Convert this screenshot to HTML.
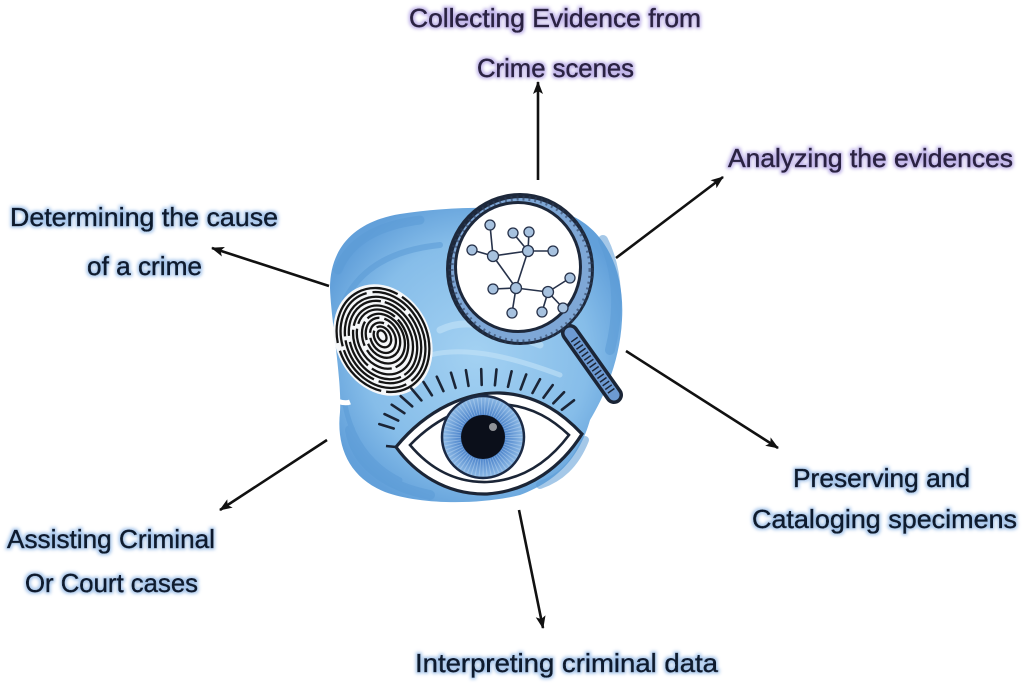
<!DOCTYPE html>
<html>
<head>
<meta charset="utf-8">
<style>
html,body{margin:0;padding:0;background:#fff;}
body{width:1024px;height:687px;overflow:hidden;}
svg{display:block;}
.t{font-family:"Liberation Sans",Arial,sans-serif;font-size:26px;}
.p{fill:#2b2143;stroke:#2b2143;stroke-width:0.55;}
.n{fill:#0f1a2e;stroke:#0f1a2e;stroke-width:0.55;}
</style>
</head>
<body>
<svg width="1024" height="687" viewBox="0 0 1024 687" xmlns="http://www.w3.org/2000/svg">
<defs>
  <filter id="gp" x="-10%" y="-40%" width="120%" height="180%">
    <feMorphology in="SourceAlpha" operator="dilate" radius="1.4" result="d"/>
    <feGaussianBlur in="d" stdDeviation="1.5" result="b"/>
    <feFlood flood-color="#c2b6ea"/>
    <feComposite in2="b" operator="in" result="g"/>
    <feMerge><feMergeNode in="g"/><feMergeNode in="SourceGraphic"/></feMerge>
  </filter>
  <filter id="gb" x="-10%" y="-40%" width="120%" height="180%">
    <feMorphology in="SourceAlpha" operator="dilate" radius="1.4" result="d"/>
    <feGaussianBlur in="d" stdDeviation="1.5" result="b"/>
    <feFlood flood-color="#aac8ec"/>
    <feComposite in2="b" operator="in" result="g"/>
    <feMerge><feMergeNode in="g"/><feMergeNode in="SourceGraphic"/></feMerge>
  </filter>
  <marker id="ah" markerWidth="13" markerHeight="10" refX="12" refY="5" orient="auto" markerUnits="userSpaceOnUse">
    <path d="M0,0 L13,5 L0,10 L3,5 Z" fill="#111"/>
  </marker>
  <radialGradient id="iris" cx="50%" cy="50%" r="50%">
    <stop offset="0" stop-color="#2a5694"/>
    <stop offset="0.55" stop-color="#4f86cc"/>
    <stop offset="1" stop-color="#8fbbe6"/>
  </radialGradient>
  <radialGradient id="blob" cx="50%" cy="50%" r="55%">
    <stop offset="0" stop-color="#a3d1f2"/>
    <stop offset="0.7" stop-color="#86bde9"/>
    <stop offset="1" stop-color="#62a0da"/>
  </radialGradient>
</defs>

<!-- Blue blob -->
<path d="M330,288 C330,250 352,222 400,214 C450,206 520,205 570,215 C605,230 625,270 622,320 C620,360 605,395 590,420 C580,455 560,480 520,495 C480,505 420,505 385,492 C350,478 336,448 340,412 C342,380 331,320 330,288 Z" fill="url(#blob)"/>
<g fill="none" stroke="#5b9bd6" stroke-linecap="round" opacity="0.55">
  <path d="M338,270 C350,240 380,225 420,220" stroke-width="9"/>
  <path d="M345,300 C360,270 390,250 440,245" stroke-width="6"/>
  <path d="M603,240 C618,270 620,310 610,350" stroke-width="10"/>
  <path d="M350,430 C355,460 380,485 430,495" stroke-width="10"/>
  <path d="M345,405 C352,440 370,465 400,480" stroke-width="5"/>
  <path d="M540,485 C560,478 575,465 585,440" stroke-width="8"/>
</g>
<g fill="none" stroke="#c3e3f8" stroke-linecap="round" opacity="0.6">
  <path d="M440,330 C470,315 500,330 540,345" stroke-width="7"/>
  <path d="M430,355 C470,345 520,360 560,375" stroke-width="5"/>
</g>
<path d="M330,398 C338,402 345,404 350,402" stroke="#fff" stroke-width="5" fill="none"/>

<!-- Fingerprint -->
<g transform="rotate(-28 383 340)">
  <ellipse cx="383" cy="340" rx="47" ry="58" fill="#f5f7f9"/>
  <g fill="none" stroke="#141414" stroke-width="2.3">
    <ellipse cx="384" cy="336" rx="4" ry="6"/>
    <ellipse cx="384" cy="337" rx="8" ry="11" stroke-dasharray="40 4"/>
    <ellipse cx="384" cy="338" rx="12" ry="16" stroke-dasharray="50 5 20 4"/>
    <ellipse cx="384" cy="338" rx="16" ry="21" stroke-dasharray="60 4 30 5"/>
    <ellipse cx="384" cy="339" rx="20" ry="26" stroke-dasharray="70 5 25 4"/>
    <ellipse cx="383" cy="339" rx="24" ry="31" stroke-dasharray="45 4 60 5"/>
    <ellipse cx="383" cy="340" rx="28" ry="36" stroke-dasharray="80 5 40 4"/>
    <ellipse cx="383" cy="340" rx="32" ry="41" stroke-dasharray="55 4 70 6"/>
    <ellipse cx="383" cy="340" rx="36" ry="45" stroke-dasharray="90 5 50 4"/>
    <ellipse cx="383" cy="340" rx="40" ry="50" stroke-dasharray="65 6 80 4"/>
    <ellipse cx="383" cy="340" rx="44" ry="54" stroke-dasharray="100 5 60 8"/>
  </g>
</g>

<!-- Magnifier handle -->
<line x1="570" y1="333" x2="614" y2="395" stroke="#1b2536" stroke-width="18" stroke-linecap="round"/>
<line x1="570" y1="333" x2="614" y2="395" stroke="#6d9ad2" stroke-width="11" stroke-linecap="round"/>
<line x1="574" y1="339" x2="612" y2="392" stroke="#1b2536" stroke-width="8" stroke-dasharray="1.5 3"/>
<!-- Lens -->
<ellipse cx="520" cy="269" rx="74" ry="76" fill="#1d283b"/>
<ellipse cx="521" cy="270" rx="70" ry="72" fill="#7ea7d6"/>
<ellipse cx="521" cy="270" rx="70" ry="72" fill="none" stroke="#2d3c58" stroke-width="5" stroke-dasharray="2 4" opacity="0.6"/>
<ellipse cx="518" cy="267" rx="64" ry="66" fill="#1d283b"/>
<ellipse cx="518" cy="267" rx="61" ry="63" fill="#ffffff"/>

<!-- Network -->
<g stroke="#27324a" stroke-width="1.6">
  <line x1="490" y1="225" x2="493" y2="256"/>
  <line x1="472" y1="250" x2="493" y2="256"/>
  <line x1="493" y1="256" x2="528" y2="251"/>
  <line x1="513" y1="233" x2="528" y2="251"/>
  <line x1="529" y1="232" x2="528" y2="251"/>
  <line x1="528" y1="251" x2="553" y2="251"/>
  <line x1="493" y1="256" x2="516" y2="288"/>
  <line x1="528" y1="251" x2="516" y2="288"/>
  <line x1="493" y1="289" x2="516" y2="288"/>
  <line x1="516" y1="288" x2="548" y2="292"/>
  <line x1="516" y1="288" x2="512" y2="313"/>
  <line x1="548" y1="292" x2="570" y2="278"/>
  <line x1="548" y1="292" x2="542" y2="312"/>
  <line x1="548" y1="292" x2="563" y2="308"/>
</g>
<g fill="#a7c2df" stroke="#27324a" stroke-width="1.3">
  <circle cx="490" cy="225" r="5"/>
  <circle cx="513" cy="233" r="5"/>
  <circle cx="529" cy="232" r="5"/>
  <circle cx="472" cy="250" r="5"/>
  <circle cx="493" cy="256" r="5.5"/>
  <circle cx="528" cy="251" r="5.5"/>
  <circle cx="553" cy="251" r="5"/>
  <circle cx="570" cy="278" r="5"/>
  <circle cx="493" cy="289" r="5"/>
  <circle cx="516" cy="288" r="5.5"/>
  <circle cx="548" cy="292" r="5.5"/>
  <circle cx="512" cy="313" r="5"/>
  <circle cx="542" cy="312" r="5"/>
  <circle cx="563" cy="308" r="5"/>
</g>

<!-- Eyelashes -->
<g stroke="#1b2536" stroke-width="2.6" stroke-linecap="round">
  <line x1="393.7" y1="428.5" x2="379.3" y2="424.1"/>
  <line x1="398.2" y1="420.6" x2="384.5" y2="414.1"/>
  <line x1="404.4" y1="413.2" x2="391.7" y2="404.7"/>
  <line x1="412.2" y1="406.4" x2="400.7" y2="396.1"/>
  <line x1="421.4" y1="400.4" x2="411.4" y2="388.5"/>
  <line x1="431.9" y1="395.3" x2="423.5" y2="382.0"/>
  <line x1="443.4" y1="391.1" x2="436.8" y2="376.7"/>
  <line x1="455.6" y1="387.9" x2="451.0" y2="372.7"/>
  <line x1="468.5" y1="385.9" x2="465.9" y2="370.2"/>
  <line x1="481.7" y1="385.0" x2="481.2" y2="369.0"/>
  <line x1="494.9" y1="385.3" x2="496.5" y2="369.4"/>
  <line x1="508.0" y1="386.8" x2="511.6" y2="371.3"/>
  <line x1="520.6" y1="389.4" x2="526.2" y2="374.5"/>
  <line x1="532.5" y1="393.0" x2="540.0" y2="379.2"/>
  <line x1="543.5" y1="397.7" x2="552.7" y2="385.1"/>
  <line x1="553.3" y1="403.3" x2="564.1" y2="392.2"/>
  <line x1="561.9" y1="409.7" x2="574.0" y2="400.3"/>
</g>

<!-- Eye -->
<path d="M396,447 C428,408 468,392 500,393 C540,395 565,416 582,434 C562,466 530,491 487,494 C445,495 414,472 396,447 Z" fill="#ffffff" stroke="#1b2536" stroke-width="3.2"/>
<path d="M410,445 C440,414 474,403 500,404 C534,406 554,421 569,435 C551,459 525,480 487,482 C451,483 426,464 410,445 Z" fill="#ffffff" stroke="#1b2536" stroke-width="2.6"/>
<path d="M396,447 L386,446" stroke="#1b2536" stroke-width="2.5"/>
<circle cx="483" cy="437" r="41" fill="url(#iris)" stroke="#1b2a45" stroke-width="2.5"/>
<circle cx="483" cy="437" r="31" fill="none" stroke="#b9d6f2" stroke-width="17" stroke-dasharray="1 2.2" opacity="0.5"/>
<circle cx="483" cy="437" r="22" fill="#0b0f1a"/>
<circle cx="493" cy="427" r="4" fill="#ffffff" opacity="0.55"/>

<!-- Arrows -->
<g stroke="#111" stroke-width="2.6" fill="none" marker-end="url(#ah)">
  <line x1="538" y1="180" x2="538" y2="82"/>
  <line x1="616" y1="258" x2="723" y2="177"/>
  <line x1="626" y1="351" x2="778" y2="448"/>
  <line x1="329" y1="286" x2="212" y2="248"/>
  <line x1="327" y1="440" x2="220" y2="510"/>
  <line x1="519" y1="510" x2="543" y2="628"/>
</g>

<!-- Labels -->
<g class="t">
  <text class="p" filter="url(#gp)" x="409" y="27" textLength="292" lengthAdjust="spacingAndGlyphs">Collecting Evidence from</text>
  <text class="p" filter="url(#gp)" x="477" y="77" textLength="157" lengthAdjust="spacingAndGlyphs">Crime scenes</text>
  <text class="p" filter="url(#gp)" x="728" y="167" textLength="285" lengthAdjust="spacingAndGlyphs">Analyzing the evidences</text>
  <text class="n" filter="url(#gb)" x="10" y="226" textLength="268" lengthAdjust="spacingAndGlyphs">Determining the cause</text>
  <text class="n" filter="url(#gb)" x="87" y="275" textLength="115" lengthAdjust="spacingAndGlyphs">of a crime</text>
  <text class="n" filter="url(#gb)" x="793" y="487" textLength="177" lengthAdjust="spacingAndGlyphs">Preserving and</text>
  <text class="n" filter="url(#gb)" x="752" y="528" textLength="265" lengthAdjust="spacingAndGlyphs">Cataloging specimens</text>
  <text class="n" filter="url(#gb)" x="7" y="548" textLength="208" lengthAdjust="spacingAndGlyphs">Assisting Criminal</text>
  <text class="n" filter="url(#gb)" x="25" y="592" textLength="173" lengthAdjust="spacingAndGlyphs">Or Court cases</text>
  <text class="n" filter="url(#gb)" x="415" y="672" textLength="303" lengthAdjust="spacingAndGlyphs">Interpreting criminal data</text>
</g>
</svg>
</body>
</html>
